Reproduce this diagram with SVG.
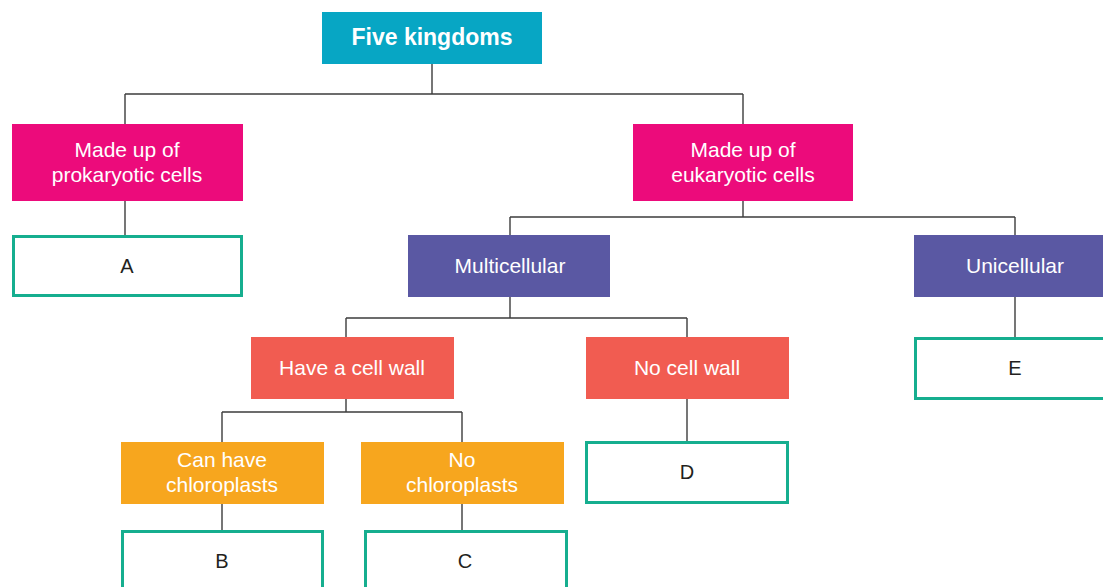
<svg xmlns="http://www.w3.org/2000/svg" width="1103" height="587" viewBox="0 0 1103 587">
  <style>
    .lbl { font-family: "Liberation Sans", Arial, sans-serif; font-size: 21px; fill: #ffffff; text-anchor: middle; }
    .title { font-weight: bold; font-size: 23px; }
    .ans { font-family: "Liberation Sans", Arial, sans-serif; font-size: 20px; fill: #231f20; text-anchor: middle; }
    .blank { fill: #ffffff; stroke: #16ae8f; stroke-width: 3; }
    .cyan { fill: #07a6c4; }
    .pink { fill: #ec0b7b; }
    .purple { fill: #5a58a3; }
    .red { fill: #f15c51; }
    .orange { fill: #f7a61e; }
    .wire { fill: none; stroke: #3d3d3d; stroke-width: 1.4; }
  </style>

  <!-- connectors -->
  <g id="connectors" class="wire">
    <path d="M432 64 V94 M125 94 H743 M125 94 V124 M743 94 V124"/>
    <path d="M125 201 V235"/>
    <path d="M743 201 V217 M510 217 H1015 M510 217 V235 M1015 217 V235"/>
    <path d="M510 297 V318 M346 318 H687 M346 318 V337 M687 318 V337"/>
    <path d="M1015 297 V337"/>
    <path d="M346 399 V412 M222 412 H462 M222 412 V442 M462 412 V442"/>
    <path d="M687 399 V442"/>
    <path d="M222 504 V530 M462 504 V530"/>
  </g>

  <g id="five-kingdoms">
    <rect class="cyan" x="322" y="12" width="220" height="52"/>
    <text class="lbl title" x="432" y="45">Five kingdoms</text>
  </g>

  <g id="prokaryotic">
    <rect class="pink" x="12" y="124" width="231" height="77"/>
    <text class="lbl" x="127" y="157">Made up of</text>
    <text class="lbl" x="127" y="182">prokaryotic cells</text>
  </g>

  <g id="eukaryotic">
    <rect class="pink" x="633" y="124" width="220" height="77"/>
    <text class="lbl" x="743" y="157">Made up of</text>
    <text class="lbl" x="743" y="182">eukaryotic cells</text>
  </g>

  <g id="box-a">
    <rect class="blank" x="13.5" y="236.5" width="228" height="59"/>
    <text class="ans" x="127" y="273">A</text>
  </g>

  <g id="multicellular">
    <rect class="purple" x="408" y="235" width="202" height="62"/>
    <text class="lbl" x="510" y="273">Multicellular</text>
  </g>

  <g id="unicellular">
    <rect class="purple" x="914" y="235" width="195" height="62"/>
    <text class="lbl" x="1015" y="273">Unicellular</text>
  </g>

  <g id="cell-wall">
    <rect class="red" x="251" y="337" width="203" height="62"/>
    <text class="lbl" x="352" y="375">Have a cell wall</text>
  </g>

  <g id="no-cell-wall">
    <rect class="red" x="586" y="337" width="203" height="62"/>
    <text class="lbl" x="687" y="375">No cell wall</text>
  </g>

  <g id="box-e">
    <rect class="blank" x="915.5" y="338.5" width="195" height="60"/>
    <text class="ans" x="1015" y="375">E</text>
  </g>

  <g id="chloroplasts">
    <rect class="orange" x="121" y="442" width="203" height="62"/>
    <text class="lbl" x="222" y="467">Can have</text>
    <text class="lbl" x="222" y="492">chloroplasts</text>
  </g>

  <g id="no-chloroplasts">
    <rect class="orange" x="361" y="442" width="203" height="62"/>
    <text class="lbl" x="462" y="467">No</text>
    <text class="lbl" x="462" y="492">chloroplasts</text>
  </g>

  <g id="box-d">
    <rect class="blank" x="586.5" y="442.5" width="201" height="60"/>
    <text class="ans" x="687" y="479">D</text>
  </g>

  <g id="box-b">
    <rect class="blank" x="122.5" y="531.5" width="200" height="70"/>
    <text class="ans" x="222" y="568">B</text>
  </g>

  <g id="box-c">
    <rect class="blank" x="365.5" y="531.5" width="201" height="70"/>
    <text class="ans" x="465" y="568">C</text>
  </g>
</svg>
